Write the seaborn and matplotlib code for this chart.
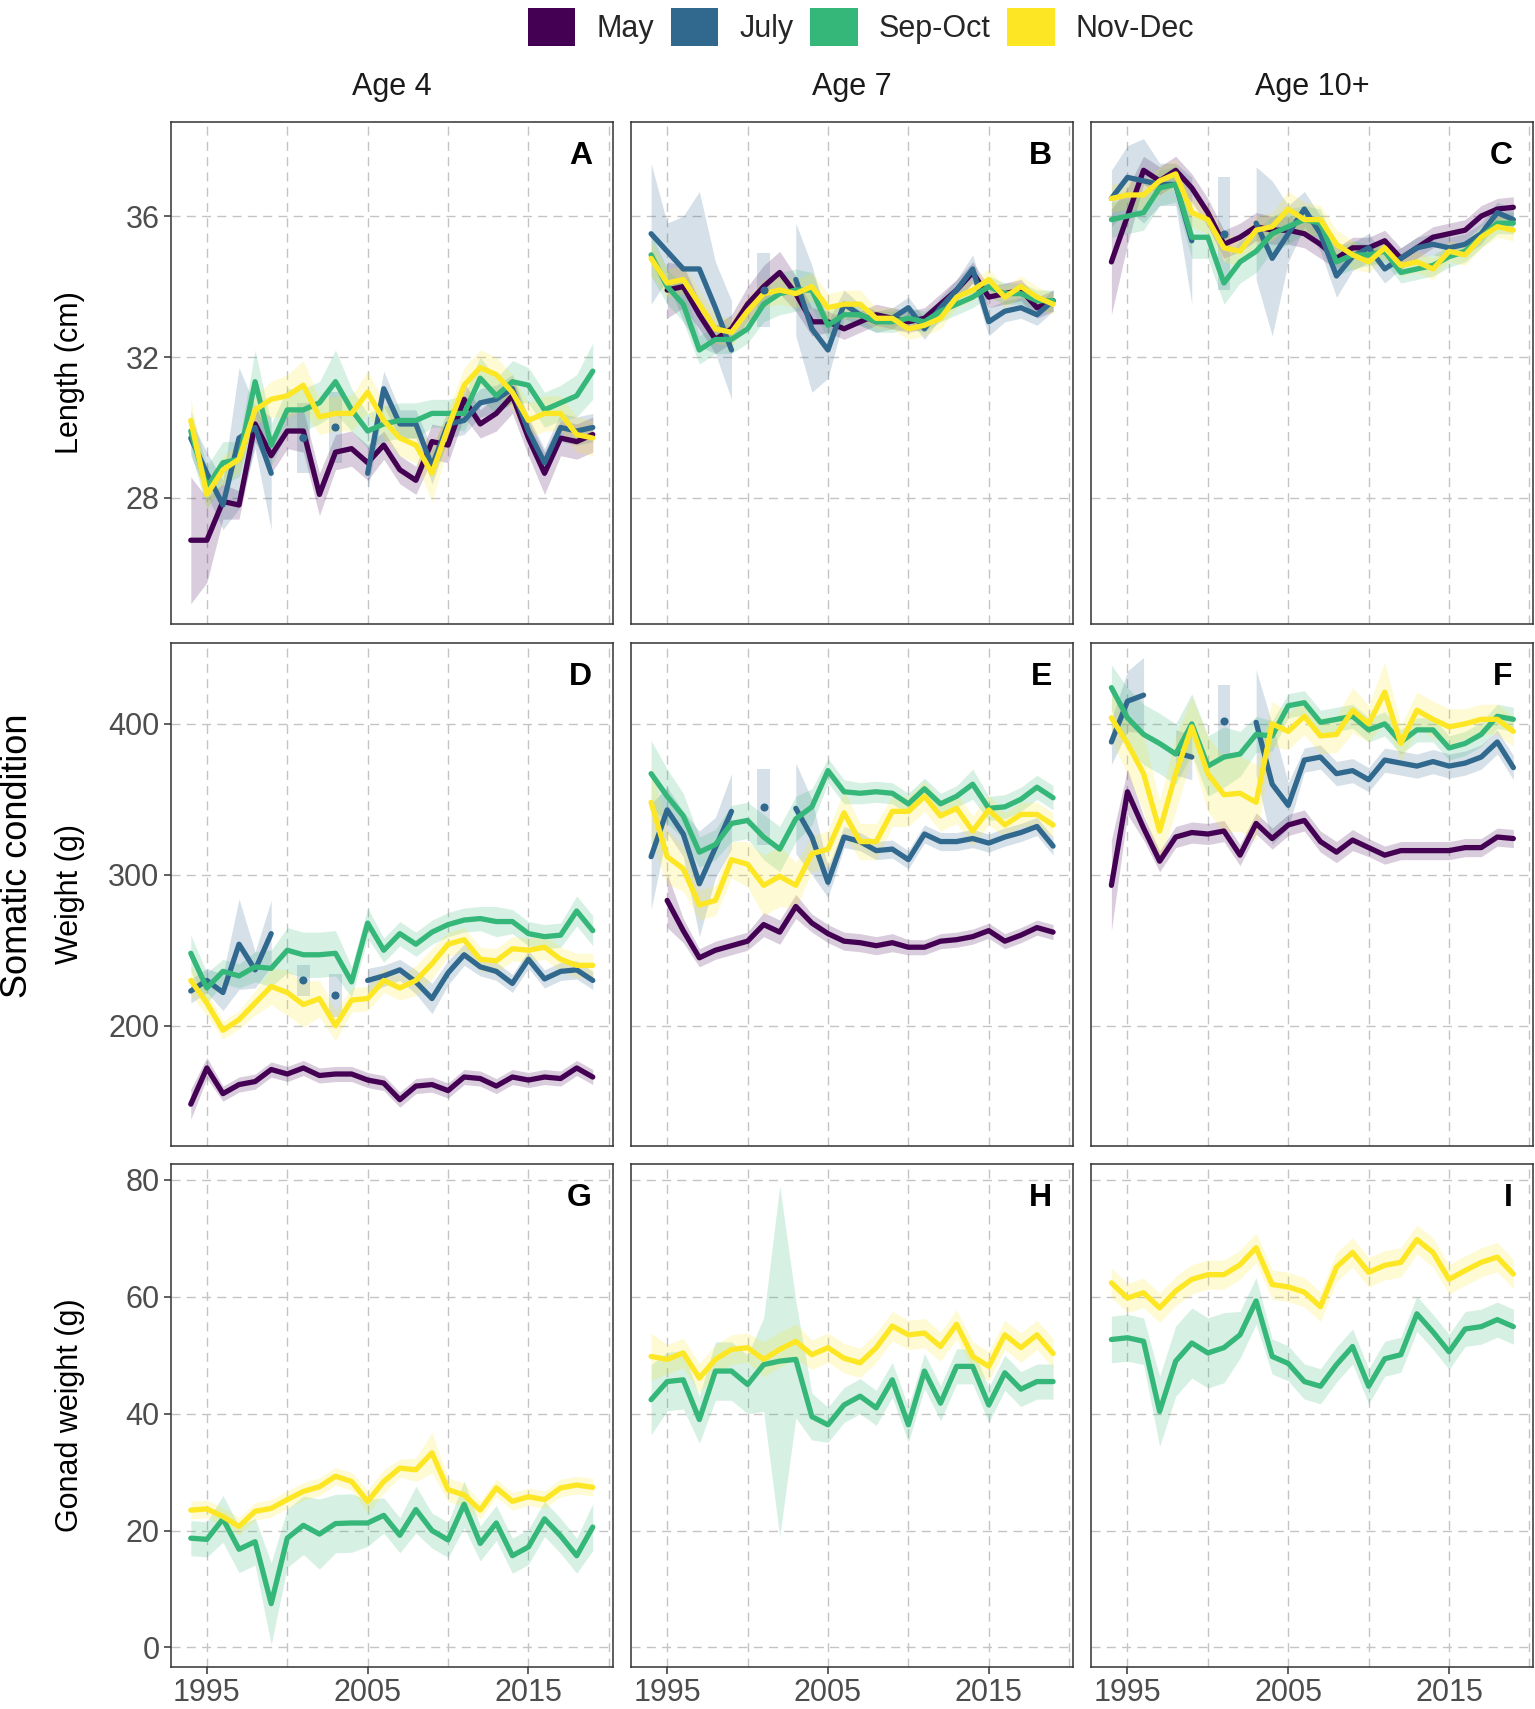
import numpy as np
import pandas as pd
import matplotlib
matplotlib.use("Agg")
import matplotlib.pyplot as plt
import seaborn as sns
from matplotlib.patches import Patch

nan = np.nan

years = list(range(1994, 2020))
months = ["May", "July", "Sep-Oct", "Nov-Dec"]
ages = ["Age 4", "Age 7", "Age 10+"]
row_titles = ["Length (cm)", "Weight (g)", "Gonad weight (g)"]
panel_letters = ["A", "B", "C", "D", "E", "F", "G", "H", "I"]
palette = {"May": "#440154", "July": "#31688E", "Sep-Oct": "#35B779", "Nov-Dec": "#FDE725"}

# ---- Length (cm), means and ribbon half widths ----
len4_may = [26.8, 26.8, 27.9, 27.8, 30.1, 29.2, 29.9, 29.9, 28.1, 29.3, 29.4, 29.0, 29.5, 28.8, 28.5, 29.6,
            29.5, 30.8, 30.1, 30.4, 30.9, 29.7, 28.7, 29.7, 29.6, 29.8]
len4_may_ci = [1.8, 1.2, 0.5, 0.4, 0.5, 0.5, 0.5, 0.6, 0.6, 0.5, 0.5, 0.5, 0.4, 0.4, 0.4, 0.5,
               0.5, 0.5, 0.4, 0.5, 0.5, 0.5, 0.6, 0.5, 0.5, 0.5]
len4_jul = [29.7, 28.7, 27.8, 29.7, 30.0, 28.7, nan, 29.7, nan, 30.0, nan, 28.7, 31.1, 30.1, 30.1, 28.9,
            30.1, 30.2, 30.7, 30.8, 31.1, 29.9, 29.0, 30.0, 29.9, 30.0]
len4_jul_ci = [0.5, 0.6, 0.7, 2.0, 0.6, 1.6, 0, 1.0, 0, 1.0, 0, 0.5, 0.5, 0.4, 0.4, 0.5,
               0.4, 0.4, 0.4, 0.4, 0.4, 0.4, 0.4, 0.4, 0.4, 0.4]
len4_sep = [29.9, 28.3, 29.0, 29.1, 31.3, 29.5, 30.5, 30.5, 30.7, 31.3, 30.5, 29.9, 30.1, 30.2, 30.2, 30.4,
            30.4, 30.4, 31.4, 30.9, 31.3, 31.2, 30.5, 30.7, 30.9, 31.6]
len4_sep_ci = [0.6, 0.6, 0.6, 0.5, 0.9, 0.6, 0.6, 0.6, 0.6, 0.9, 0.6, 0.5, 0.5, 0.5, 0.5, 0.4,
               0.4, 0.5, 0.6, 0.5, 0.6, 0.5, 0.5, 0.5, 0.6, 0.8]
len4_nov = [30.2, 28.1, 28.8, 29.1, 30.5, 30.8, 30.9, 31.2, 30.3, 30.4, 30.4, 31.0, 30.2, 29.7, 29.5, 28.7,
            30.0, 31.2, 31.7, 31.5, 31.0, 30.2, 30.4, 30.4, 29.8, 29.7]
len4_nov_ci = [0.6, 0.4, 0.4, 0.4, 0.4, 0.5, 0.6, 0.7, 0.5, 0.5, 0.5, 0.6, 0.5, 0.5, 0.5, 0.8,
               0.5, 0.5, 0.5, 0.5, 0.5, 0.5, 0.5, 0.5, 0.5, 0.5]

len7_may = [nan, 33.9, 34.0, 33.2, 32.5, 32.8, 33.5, 34.0, 34.4, 33.8, 33.0, 33.0, 32.8, 33.0, 33.2, 33.1,
            33.0, 33.1, 33.5, 33.9, 34.4, 33.7, 33.8, 33.9, 33.4, 33.6]
len7_may_ci = [0, 0.8, 0.6, 0.4, 0.4, 0.4, 0.5, 0.6, 0.6, 0.5, 0.4, 0.3, 0.3, 0.3, 0.3, 0.3,
               0.3, 0.3, 0.3, 0.3, 0.3, 0.3, 0.3, 0.3, 0.3, 0.3]
len7_jul = [35.5, 35.0, 34.5, 34.5, 33.4, 32.2, nan, 33.9, nan, 34.2, 32.8, 32.2, 33.5, 33.2, 33.0, 33.1,
            33.4, 32.8, 33.4, 33.9, 34.5, 33.0, 33.3, 33.4, 33.2, 33.6]
len7_jul_ci = [2.0, 0.8, 1.5, 2.2, 1.3, 1.4, 0, 1.05, 0, 1.6, 1.8, 0.8, 0.4, 0.3, 0.3, 0.3,
               0.3, 0.3, 0.3, 0.3, 0.4, 0.4, 0.3, 0.3, 0.3, 0.3]
len7_sep = [34.9, 34.0, 33.5, 32.2, 32.5, 32.5, 32.8, 33.5, 33.8, 33.9, 33.9, 32.9, 33.2, 33.2, 33.0, 33.0,
            33.1, 33.0, 33.3, 33.5, 33.7, 34.0, 33.8, 33.8, 33.6, 33.6]
len7_sep_ci = [0.6, 0.5, 0.5, 0.4, 0.4, 0.4, 0.4, 0.5, 0.6, 0.6, 0.5, 0.4, 0.3, 0.3, 0.3, 0.3,
               0.3, 0.3, 0.3, 0.3, 0.3, 0.3, 0.3, 0.3, 0.3, 0.3]
len7_nov = [34.8, 34.1, 34.2, 33.5, 32.8, 32.7, 33.3, 33.8, 33.9, 33.8, 34.0, 33.4, 33.5, 33.5, 33.1, 33.1,
            32.8, 32.9, 33.1, 33.7, 33.9, 34.2, 33.7, 34.0, 33.7, 33.5]
len7_nov_ci = [0.5, 0.4, 0.4, 0.4, 0.4, 0.4, 0.4, 0.4, 0.4, 0.4, 0.4, 0.4, 0.4, 0.4, 0.3, 0.3,
               0.3, 0.3, 0.3, 0.3, 0.3, 0.3, 0.3, 0.3, 0.3, 0.3]

len10_may = [34.7, 36.0, 37.3, 37.0, 37.3, 36.8, 36.1, 35.2, 35.4, 35.7, 35.6, 35.6, 35.5, 35.2, 34.8, 35.1,
             35.1, 35.3, 34.8, 35.1, 35.4, 35.5, 35.6, 36.0, 36.2, 36.25]
len10_may_ci = [1.5, 0.8, 0.4, 0.4, 0.4, 0.4, 0.4, 0.4, 0.4, 0.4, 0.4, 0.4, 0.4, 0.4, 0.3, 0.3,
                0.3, 0.3, 0.3, 0.3, 0.3, 0.3, 0.3, 0.3, 0.3, 0.3]
len10_jul = [36.5, 37.1, 37.0, 36.9, 36.9, 35.3, nan, 35.5, nan, 35.8, 34.8, 35.5, 36.2, 35.5, 34.3, 34.85,
             35.1, 34.5, 34.8, 35.1, 35.2, 35.1, 35.2, 35.5, 36.1, 35.9]
len10_jul_ci = [0.8, 0.9, 1.2, 0.6, 0.6, 1.8, 0, 1.6, 0, 1.6, 2.2, 0.8, 0.5, 0.5, 0.6, 0.4,
                0.4, 0.4, 0.3, 0.3, 0.3, 0.3, 0.3, 0.3, 0.3, 0.3]
len10_sep = [35.9, 36.0, 36.1, 36.8, 36.9, 35.4, 35.4, 34.1, 34.7, 35.0, 35.5, 35.7, 35.9, 35.8, 34.7, 34.9,
             34.9, 35.0, 34.4, 34.5, 34.6, 34.85, 35.0, 35.4, 35.8, 35.8]
len10_sep_ci = [0.5, 0.5, 0.5, 0.5, 0.5, 0.6, 0.6, 0.6, 0.6, 0.6, 0.5, 0.5, 0.4, 0.4, 0.4, 0.4,
                0.3, 0.3, 0.3, 0.3, 0.3, 0.3, 0.3, 0.3, 0.3, 0.3]
len10_nov = [36.5, 36.6, 36.6, 37.0, 37.2, 36.1, 35.9, 35.1, 35.0, 35.6, 35.7, 36.2, 35.9, 35.9, 35.2, 34.9,
             34.7, 35.1, 34.6, 34.7, 34.5, 35.0, 34.9, 35.4, 35.7, 35.6]
len10_nov_ci = [0.4, 0.4, 0.4, 0.4, 0.4, 0.4, 0.4, 0.4, 0.4, 0.4, 0.4, 0.5, 0.5, 0.4, 0.4, 0.4,
                0.3, 0.3, 0.3, 0.3, 0.3, 0.3, 0.3, 0.3, 0.3, 0.3]

# ---- Weight (g) ----
wt4_may = [148, 172, 155, 161, 163, 171, 168, 172, 167, 168, 168, 164, 162, 151, 160, 161,
           157, 166, 165, 160, 166, 164, 166, 165, 172, 166]
wt4_may_ci = [10, 7, 5, 5, 5, 5, 5, 5, 5, 5, 5, 5, 5, 5, 5, 5, 5, 5, 5, 5, 5, 5, 5, 5, 5, 5]
wt4_jul = [223, 230, 222, 254, 237, 261, nan, 230, nan, 220, nan, 230, 233, 237, 229, 218,
           235, 247, 239, 236, 228, 244, 231, 236, 237, 230]
wt4_jul_ci = [8, 8, 12, 30, 12, 22, 0, 10, 0, 14, 0, 8, 7, 7, 8, 10, 8, 7, 6, 6, 6, 6, 6, 6, 6, 6]
wt4_sep = [248, 225, 236, 233, 239, 238, 250, 247, 247, 248, 229, 268, 250, 261, 254, 262,
           267, 270, 271, 269, 269, 261, 259, 260, 276, 263]
wt4_sep_ci = [12, 10, 8, 8, 10, 12, 15, 15, 15, 15, 10, 10, 8, 8, 8, 8, 8, 8, 8, 10, 8, 8, 8, 8, 10, 10]
wt4_nov = [230, 215, 197, 204, 215, 226, 222, 214, 218, 200, 217, 218, 230, 225, 230, 241,
           254, 257, 244, 243, 251, 250, 252, 244, 240, 240]
wt4_nov_ci = [10, 8, 6, 6, 8, 12, 15, 15, 12, 10, 8, 8, 8, 8, 10, 10, 8, 8, 8, 8, 8, 8, 8, 8, 8, 8]

wt7_may = [nan, 283, 263, 245, 250, 253, 256, 267, 262, 279, 268, 261, 256, 255, 253, 255,
           252, 252, 256, 257, 259, 263, 256, 260, 265, 262]
wt7_may_ci = [0, 18, 8, 6, 6, 6, 6, 8, 8, 8, 6, 6, 6, 6, 6, 6, 5, 5, 5, 5, 5, 5, 5, 5, 5, 5]
wt7_jul = [312, 343, 327, 294, 318, 342, nan, 345, nan, 344, 325, 295, 325, 322, 316, 317,
           310, 327, 322, 322, 324, 321, 325, 328, 332, 319]
wt7_jul_ci = [35, 15, 15, 35, 20, 25, 0, 25, 0, 30, 25, 10, 7, 6, 6, 6, 6, 6, 6, 6, 6, 6, 6, 6, 6, 6]
wt7_sep = [367, 352, 339, 315, 320, 334, 336, 325, 317, 337, 345, 369, 355, 354, 355, 354,
           347, 357, 347, 352, 360, 344, 345, 350, 358, 351]
wt7_sep_ci = [22, 18, 15, 10, 10, 12, 12, 15, 15, 15, 12, 8, 8, 7, 7, 7, 7, 7, 7, 7, 10, 8, 8, 8, 8, 8]
wt7_nov = [348, 312, 304, 280, 283, 310, 307, 293, 299, 293, 314, 317, 341, 322, 322, 342,
           342, 352, 339, 344, 329, 343, 333, 340, 340, 333]
wt7_nov_ci = [25, 18, 15, 10, 10, 12, 15, 20, 20, 15, 12, 12, 15, 12, 12, 10, 10, 10, 10, 10, 10, 10, 8, 8, 8, 8]

wt10_may = [293, 355, 331, 309, 325, 328, 327, 329, 313, 334, 324, 333, 336, 322, 315, 323,
            318, 313, 316, 316, 316, 316, 318, 318, 325, 324]
wt10_may_ci = [30, 15, 8, 7, 7, 7, 7, 7, 7, 7, 7, 7, 7, 7, 7, 7, 6, 6, 6, 6, 6, 6, 6, 6, 6, 6]
wt10_jul = [388, 415, 419, nan, 381, 378, nan, 402, nan, 401, 360, 346, 376, 378, 367, 369,
            363, 376, 374, 372, 375, 372, 374, 378, 388, 371]
wt10_jul_ci = [15, 20, 25, 0, 15, 15, 0, 24, 0, 35, 40, 15, 8, 8, 8, 8, 8, 8, 8, 8, 8, 8, 8, 8, 8, 8]
wt10_sep = [424, 404, 393, 387, 380, 400, 372, 378, 380, 393, 392, 412, 414, 401, 403, 405,
            396, 400, 388, 396, 396, 384, 387, 393, 405, 403]
wt10_sep_ci = [15, 20, 20, 20, 20, 20, 20, 20, 15, 12, 10, 8, 8, 8, 8, 8, 8, 8, 8, 8, 8, 8, 8, 8, 8, 8]
wt10_nov = [404, 387, 367, 329, 367, 398, 367, 353, 354, 348, 400, 395, 405, 392, 393, 409,
            400, 421, 387, 409, 403, 398, 400, 403, 403, 395]
wt10_nov_ci = [15, 20, 25, 20, 25, 20, 25, 25, 25, 25, 15, 12, 12, 12, 12, 15, 12, 20, 12, 12, 12, 12, 10, 10, 10, 10]

# ---- Gonad weight (g), only Sep-Oct and Nov-Dec ----
gon4_sep = [18.7, 18.5, 22.0, 16.8, 18.1, 7.5, 18.7, 20.9, 19.4, 21.2, 21.3, 21.3, 22.6, 19.2, 23.6, 20.0,
            18.4, 24.5, 17.8, 21.3, 15.7, 17.2, 22.0, 19.1, 15.7, 20.6]
gon4_sep_ci = [3, 3, 4, 4, 4, 7, 5, 5, 6, 5, 5, 4, 3, 3, 4, 3, 3, 4, 3, 3, 3, 3, 3, 3, 3, 4]
gon4_nov = [23.5, 23.7, 22.4, 20.7, 23.3, 23.8, 25.3, 26.7, 27.5, 29.3, 28.4, 25.0, 28.4, 30.7, 30.4, 33.3,
            27.0, 26.1, 23.5, 27.3, 25.0, 25.8, 25.3, 27.3, 27.8, 27.4]
gon4_nov_ci = [1.5, 1.5, 1.5, 1.5, 1.5, 1.5, 1.5, 1.5, 1.5, 1.5, 1.5, 2, 2, 1.5, 2, 3.5,
               2, 2, 1.5, 1.5, 1.5, 1.5, 1.5, 1.5, 1.5, 1.5]

gon7_sep = [42.4, 45.5, 45.8, 39.0, 47.3, 47.3, 45.0, 48.4, 49.0, 49.3, 39.5, 38.1, 41.5, 43.0, 41.0, 45.8,
            38.1, 47.3, 41.8, 48.1, 48.1, 41.5, 47.0, 44.2, 45.5, 45.5]
gon7_sep_ci = [6, 5, 5, 4, 5, 5, 5, 8, 30, 10, 4, 3, 3, 3, 3, 3, 3, 3, 3, 3, 3, 3, 3, 3, 3, 3]
gon7_nov = [49.8, 49.3, 50.4, 46.1, 49.3, 51.0, 51.3, 49.3, 51.0, 52.4, 50.1, 51.3, 49.5, 48.7, 51.3, 55.0,
            53.5, 53.8, 51.5, 55.3, 49.8, 48.1, 53.5, 51.3, 53.5, 50.3]
gon7_nov_ci = [4, 2.5, 2.5, 2.5, 2.5, 2.5, 2.5, 3, 3, 3, 2.5, 2.5, 2.5, 2.5, 2.5, 2.5,
               2.5, 2.5, 2.5, 2.5, 2.5, 2.5, 2.5, 2.5, 2.5, 2.5]

gon10_sep = [52.7, 53.0, 52.4, 40.4, 49.0, 52.1, 50.4, 51.3, 53.5, 59.3, 49.8, 48.6, 45.5, 44.7, 48.4, 51.5,
             44.7, 49.4, 50.1, 57.1, 54.0, 50.6, 54.5, 54.9, 56.1, 54.9]
gon10_sep_ci = [4, 4, 4, 6, 6, 6, 6, 6, 4, 4, 3, 3, 3, 3, 3, 3, 3, 3, 3, 3, 3, 3, 3, 3, 3, 3]
gon10_nov = [62.4, 59.8, 60.7, 58.1, 61.0, 63.0, 63.8, 63.8, 65.5, 68.4, 62.1, 61.7, 60.8, 58.3, 65.1, 67.6,
             64.2, 65.4, 65.9, 69.8, 67.6, 63.0, 64.5, 65.9, 66.8, 63.9]
gon10_nov_ci = [2.5, 2.5, 2.5, 2.5, 2.5, 2.5, 2.5, 2.5, 2.5, 2.5, 2.5, 2.5, 2.5, 2.5, 2.5, 2.5,
                2.5, 2.5, 2.5, 2.5, 2.5, 2.5, 2.5, 2.5, 2.5, 2.5]

# panel -> series lookup (built from the lists above)
series = {
    (0, 0): {"May": (len4_may, len4_may_ci), "July": (len4_jul, len4_jul_ci),
             "Sep-Oct": (len4_sep, len4_sep_ci), "Nov-Dec": (len4_nov, len4_nov_ci)},
    (0, 1): {"May": (len7_may, len7_may_ci), "July": (len7_jul, len7_jul_ci),
             "Sep-Oct": (len7_sep, len7_sep_ci), "Nov-Dec": (len7_nov, len7_nov_ci)},
    (0, 2): {"May": (len10_may, len10_may_ci), "July": (len10_jul, len10_jul_ci),
             "Sep-Oct": (len10_sep, len10_sep_ci), "Nov-Dec": (len10_nov, len10_nov_ci)},
    (1, 0): {"May": (wt4_may, wt4_may_ci), "July": (wt4_jul, wt4_jul_ci),
             "Sep-Oct": (wt4_sep, wt4_sep_ci), "Nov-Dec": (wt4_nov, wt4_nov_ci)},
    (1, 1): {"May": (wt7_may, wt7_may_ci), "July": (wt7_jul, wt7_jul_ci),
             "Sep-Oct": (wt7_sep, wt7_sep_ci), "Nov-Dec": (wt7_nov, wt7_nov_ci)},
    (1, 2): {"May": (wt10_may, wt10_may_ci), "July": (wt10_jul, wt10_jul_ci),
             "Sep-Oct": (wt10_sep, wt10_sep_ci), "Nov-Dec": (wt10_nov, wt10_nov_ci)},
    (2, 0): {"Sep-Oct": (gon4_sep, gon4_sep_ci), "Nov-Dec": (gon4_nov, gon4_nov_ci)},
    (2, 1): {"Sep-Oct": (gon7_sep, gon7_sep_ci), "Nov-Dec": (gon7_nov, gon7_nov_ci)},
    (2, 2): {"Sep-Oct": (gon10_sep, gon10_sep_ci), "Nov-Dec": (gon10_nov, gon10_nov_ci)},
}

row_ylim = [(24.41, 38.68), (120.5, 453.6), (-3.34, 82.7)]
row_yticks = [[28, 32, 36], [200, 300, 400], [0, 20, 40, 60, 80]]

# long table, with a segment id so gaps (missing years) break the lines
records = []
for (r, c), d in series.items():
    for month, (vals, ci) in d.items():
        seg, prev = 0, False
        for yr, v, e in zip(years, vals, ci):
            if np.isnan(v):
                prev = False
                continue
            if not prev:
                seg += 1
            prev = True
            records.append(dict(row=r, col=c, month=month, year=yr, value=v,
                                lo=v - e, hi=v + e, seg=f"{month}_{seg}"))
df = pd.DataFrame(records)
df["n"] = df.groupby(["row", "col", "seg"])["year"].transform("size")

sns.set_theme(style="white")
plt.rcParams["font.family"] = ["Liberation Sans", "DejaVu Sans"]
plt.rcParams["lines.scale_dashes"] = False

fig, axes = plt.subplots(3, 3, figsize=(15.35, 17.09), dpi=100, sharex=True)
fig.subplots_adjust(left=0.1112, right=0.999, top=0.9288, bottom=0.0246,
                    wspace=0.041, hspace=0.0368)

border = "#333333"
grid_kw = dict(color="#C4C4C4", linewidth=1.0, linestyle=(0, (6.5, 4.5)))

for r in range(3):
    for c in range(3):
        ax = axes[r, c]
        sub = df[(df.row == r) & (df.col == c)]

        # ribbons first, all under the lines
        for (month, seg), g in sub.groupby(["month", "seg"], sort=False):
            col = palette[month]
            if len(g) > 1:
                ax.fill_between(g.year, g.lo, g.hi, color=col, alpha=0.2, lw=0, zorder=2)
            else:
                yr = g.year.iloc[0]
                ax.fill_between([yr - 0.4, yr + 0.4], [g.lo.iloc[0]] * 2, [g.hi.iloc[0]] * 2,
                                color=col, alpha=0.2, lw=0, zorder=2)

        order = [m for m in months if m in sub.month.unique()]
        lines = sub[sub.n > 1]
        sns.lineplot(data=lines, x="year", y="value", hue="month", hue_order=order,
                     units="seg", estimator=None, palette=palette, linewidth=3.8,
                     legend=False, ax=ax, zorder=3, solid_joinstyle="round")
        iso = sub[sub.n == 1]
        if len(iso):
            sns.scatterplot(data=iso, x="year", y="value", hue="month", palette=palette,
                            s=34, linewidth=0, legend=False, ax=ax, zorder=4)

        ax.set_xlim(1992.75, 2020.25)
        ax.set_ylim(*row_ylim[r])
        ax.set_xticks([1995, 2005, 2015])
        ax.set_xticks([2000, 2010, 2020], minor=True)
        ax.set_yticks(row_yticks[r])
        ax.grid(True, which="major", axis="both", **grid_kw)
        ax.grid(True, which="minor", axis="x", **grid_kw)
        ax.set_axisbelow(True)
        ax.set_xlabel("")
        ax.set_ylabel("")
        for s in ax.spines.values():
            s.set_color(border)
            s.set_linewidth(1.1)
            s.set_zorder(5)
        ax.tick_params(axis="both", which="major", direction="out", length=5, width=1.1,
                       color=border, labelsize=22, labelcolor="#4D4D4D", pad=3,
                       left=(c == 0), bottom=(r == 2), labelleft=(c == 0), labelbottom=(r == 2))
        ax.tick_params(axis="x", which="minor", length=0)

        ax.text(0.953, 0.962, panel_letters[r * 3 + c], transform=ax.transAxes,
                ha="right", va="top", fontsize=23, fontweight="bold", color="black")

        if r == 0:
            ax.text(0.5, 1.068, ages[c], transform=ax.transAxes, ha="center", va="center",
                    fontsize=22, color="#1A1A1A")

# row titles at a fixed x, centred on each row of panels
for r in range(3):
    bb = axes[r, 0].get_position()
    fig.text(0.0456, (bb.y0 + bb.y1) / 2, row_titles[r], rotation=90, ha="center",
             va="center", fontsize=22, color="black")

fig.text(0.0115, 0.499, "Somatic condition", rotation=90, ha="center", va="center",
         fontsize=26, color="black")

handles = [Patch(facecolor=palette[m], edgecolor="none") for m in months]
fig.legend(handles, months, loc="center", bbox_to_anchor=(0.561, 0.984), ncol=4,
           frameon=False, fontsize=22, handlelength=1.55, handleheight=1.55,
           handletextpad=0.69, columnspacing=0.55, borderaxespad=0)

fig.savefig("out.png", dpi=100)
